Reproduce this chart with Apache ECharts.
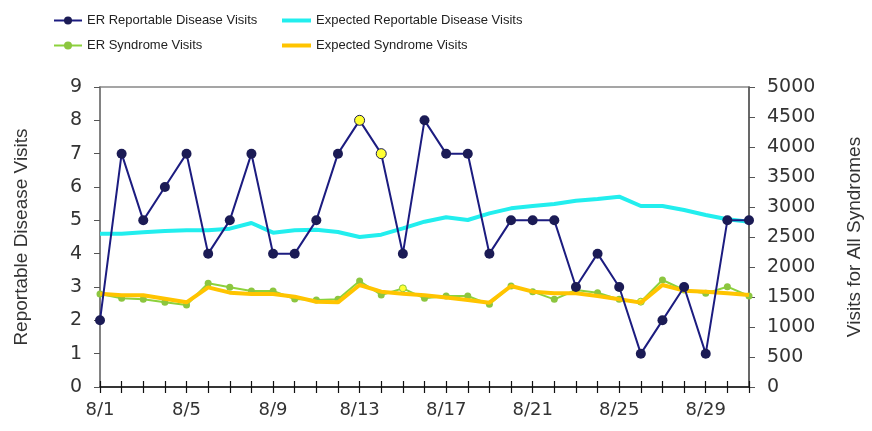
<!DOCTYPE html>
<html>
<head>
<meta charset="utf-8">
<script src="https://cdn.jsdelivr.net/npm/echarts@6/dist/echarts.min.js"></script>
<style>
    html, body { margin: 0; padding: 0; background: #fff; }
    #main { width: 872px; height: 431px; }
</style>
</head>
<body>
<div id="main"></div>
<script>
    // 日期 8/1 - 8/31
    var days = [];
    for (var d = 1; d <= 31; d++) {
        days.push('8/' + d);
    }

    // 左轴 (Reportable Disease Visits)
    var erReportable = [2, 7, 5, 6, 7, 4, 5, 7, 4, 4, 5, 7, 8, 7, 4, 8, 7, 7, 4, 5, 5, 5, 3, 4, 3, 1, 2, 3, 1, 5, 5];
    var expectedReportable = [4.6, 4.6, 4.64, 4.68, 4.7, 4.7, 4.75, 4.92, 4.63, 4.7, 4.72, 4.65, 4.5, 4.57, 4.76, 4.96, 5.09, 5.01, 5.21, 5.36, 5.43, 5.49, 5.59, 5.64, 5.71, 5.43, 5.43, 5.31, 5.16, 5.03, 4.96];
    // 标黄的点 (索引)
    var flaggedReportable = [12, 13];

    // 右轴 (Visits for All Syndromes)
    var erSyndrome = [1550, 1478, 1461, 1411, 1367, 1728, 1661, 1600, 1600, 1467, 1450, 1461, 1767, 1533, 1644, 1478, 1517, 1517, 1378, 1683, 1589, 1461, 1617, 1572, 1461, 1422, 1783, 1617, 1561, 1672, 1517];
    var expectedSyndrome = [1556, 1528, 1528, 1472, 1411, 1661, 1572, 1550, 1550, 1506, 1422, 1411, 1700, 1589, 1556, 1528, 1490, 1450, 1406, 1683, 1589, 1561, 1561, 1517, 1461, 1406, 1700, 1606, 1589, 1561, 1533];
    var flaggedSyndrome = [14, 22, 25];

    var leftTicks = [0, 9, 1];
    var rightTicks = [0, 5000, 500];

    function markFlags(values, flags, normal) {
        return values.map(function (v, i) {
            if (flags.indexOf(i) >= 0) {
                return { value: v, itemStyle: { color: '#ffff33', borderColor: normal, borderWidth: 1 } };
            }
            return v;
        });
    }

    var axisFont = 'DejaVu Sans';
    var legendText = { fontFamily: 'Liberation Sans', fontSize: 13, color: '#222' };
    var myChart = echarts.init(document.getElementById('main'));
    var option = {
        backgroundColor: '#fff',
        animation: false,
        legend: [{
            orient: 'vertical',
            left: 48,
            top: 9,
            itemWidth: 28,
            itemHeight: 10,
            itemGap: 12,
            textStyle: legendText,
            data: ['ER Reportable Disease Visits', 'ER Syndrome Visits']
        }, {
            orient: 'vertical',
            left: 277,
            top: 9,
            itemWidth: 29,
            itemHeight: 4,
            itemGap: 12,
            icon: 'rect',
            textStyle: legendText,
            data: ['Expected Reportable Disease Visits', 'Expected Syndrome Visits']
        }],
        grid: {
            left: 100,
            right: 119,
            top: 87,
            bottom: 44,
            show: true,
            borderColor: '#888',
            borderWidth: 1.5
        },
        xAxis: [{
            type: 'category',
            data: days,
            boundaryGap: false,
            axisLine: { lineStyle: { color: '#111', width: 1.5 } },
            axisTick: { interval: 0, length: 6, lineStyle: { color: '#111', width: 1.2 } },
            axisLabel: { interval: 3, margin: 14, fontFamily: axisFont, fontSize: 18, color: '#333' }
        }, {
            type: 'category',
            data: days,
            boundaryGap: false,
            position: 'bottom',
            axisLine: { show: false },
            axisTick: { inside: true, interval: 0, length: 6, lineStyle: { color: '#111', width: 1.2 } },
            axisLabel: { show: false }
        }],
        yAxis: [{
            type: 'value',
            min: leftTicks[0],
            max: leftTicks[1],
            interval: leftTicks[2],
            name: 'Reportable Disease Visits',
            nameLocation: 'middle',
            nameGap: 69,
            nameTextStyle: { fontFamily: 'Liberation Sans', fontSize: 19, color: '#333' },
            splitLine: { show: false },
            axisLine: { show: true, lineStyle: { color: '#777', width: 1.5 } },
            axisTick: { show: true, length: 6, lineStyle: { color: '#555' } },
            axisLabel: { margin: 18, fontFamily: axisFont, fontSize: 19, color: '#333' }
        }, {
            type: 'value',
            min: rightTicks[0],
            max: rightTicks[1],
            interval: rightTicks[2],
            position: 'right',
            name: 'Visits for All Syndromes',
            nameLocation: 'middle',
            nameGap: 96,
            nameTextStyle: { fontFamily: 'Liberation Sans', fontSize: 19, color: '#333' },
            splitLine: { show: false },
            axisLine: { show: true, lineStyle: { color: '#555', width: 1.5 } },
            axisTick: { show: true, length: 6, lineStyle: { color: '#555' } },
            axisLabel: {
                margin: 18, fontFamily: axisFont, fontSize: 19, color: '#333',
                formatter: function (v) { return String(v); }
            }
        }],
        series: [{
            name: 'ER Syndrome Visits',
            type: 'line',
            yAxisIndex: 1,
            data: markFlags(erSyndrome, flaggedSyndrome, '#8cc63f'),
            symbol: 'circle',
            symbolSize: 7,
            lineStyle: { color: '#8cd23c', width: 2 },
            itemStyle: { color: '#8cc63f' },
            z: 2
        }, {
            name: 'Expected Syndrome Visits',
            type: 'line',
            yAxisIndex: 1,
            data: expectedSyndrome,
            symbol: 'none',
            lineStyle: { color: '#ffc400', width: 4 },
            itemStyle: { color: '#ffc400' },
            z: 3
        }, {
            name: 'Expected Reportable Disease Visits',
            type: 'line',
            yAxisIndex: 0,
            data: expectedReportable,
            symbol: 'none',
            lineStyle: { color: '#22eeee', width: 4 },
            itemStyle: { color: '#22eeee' },
            z: 3
        }, {
            name: 'ER Reportable Disease Visits',
            type: 'line',
            yAxisIndex: 0,
            data: markFlags(erReportable, flaggedReportable, '#1b1b55'),
            symbol: 'circle',
            symbolSize: 10,
            lineStyle: { color: '#1c1c80', width: 2 },
            itemStyle: { color: '#1b1b55' },
            z: 4
        }]
    };

    myChart.setOption(option);
</script>
</body>
</html>
